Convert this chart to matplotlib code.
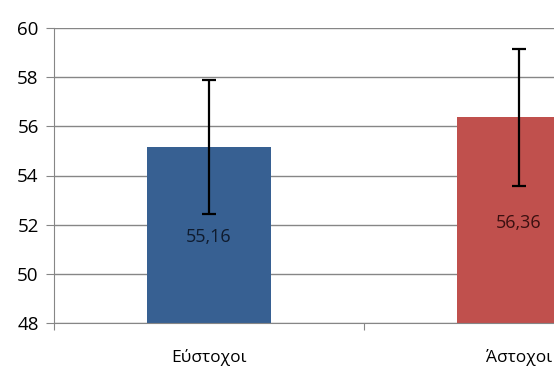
import matplotlib.pyplot as plt
import numpy as np

plt.rcParams['font.family'] = ['Open Sans', 'DejaVu Sans']

categories = ['Εύστοχοι', 'Άστοχοι']
means = [55.16, 56.36]
errors = [2.74, 2.8]
value_labels = ['55,16', '56,36']
colors = ['#376092', '#C0504D']
text_colors = ['#0f1b2e', '#3a1010']

fig = plt.figure(figsize=(5.54, 3.66), dpi=100)
# axis runs past the right edge, like the cropped original
ax = fig.add_axes([54 / 554, 1 - 323 / 366, 620 / 554, 295 / 366])

x = np.arange(len(categories))
ax.bar(x, np.array(means) - 48, bottom=48, width=0.4, color=colors, zorder=2)
ax.errorbar(x, means, yerr=errors, fmt='none', ecolor='black',
            elinewidth=1.6, capsize=5, capthick=1.6, zorder=3)

for xi, m, lab, tc in zip(x, means, value_labels, text_colors):
    ax.text(xi, (48 + m) / 2 - 0.1, lab, ha='center', va='center',
            fontsize=13, color=tc, zorder=4)

ax.set_ylim(48, 60)
ax.set_xlim(-0.5, 1.5)
ax.set_yticks(np.arange(48, 61, 2))
ax.yaxis.grid(True, color='#868686', linewidth=1)
ax.set_axisbelow(True)

ax.set_xticks([-0.5, 0.5, 1.5])
ax.set_xticklabels([])
ax.set_xticks(x, minor=True)
ax.set_xticklabels(categories, minor=True, fontsize=12.5)
ax.tick_params(axis='x', which='minor', length=0, pad=19)
ax.tick_params(axis='x', which='major', length=5, color='#868686')
ax.tick_params(axis='y', length=6, color='#868686', labelsize=13.5, pad=5)

for s in ['top', 'right']:
    ax.spines[s].set_visible(False)
for s in ['left', 'bottom']:
    ax.spines[s].set_color('#868686')

fig.savefig('out.png', dpi=100)
